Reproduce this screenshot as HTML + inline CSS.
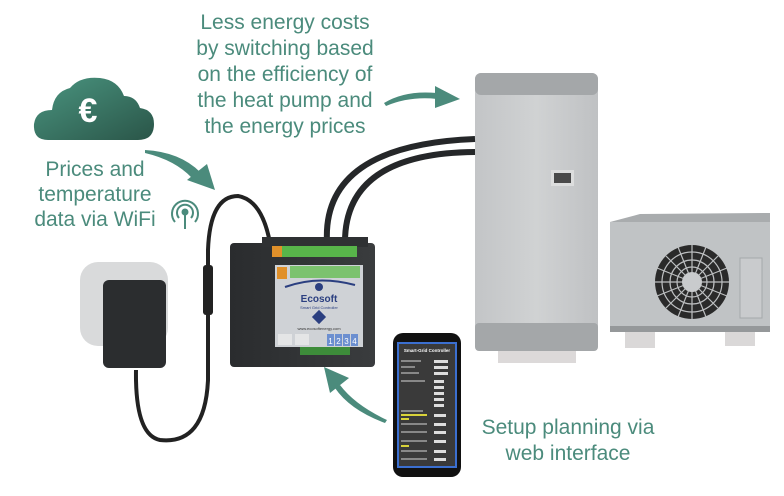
<!DOCTYPE html>
<html><head><meta charset="utf-8"><style>
html,body{margin:0;padding:0;background:#fff;}
svg{display:block}
text{font-family:"Liberation Sans",sans-serif;}
</style></head><body>
<svg width="784" height="496" viewBox="0 0 784 496" xmlns="http://www.w3.org/2000/svg">
<defs>
<linearGradient id="cg" x1="0" y1="0" x2="1" y2="1"><stop offset="0" stop-color="#4a9580"/><stop offset="1" stop-color="#2a5548"/></linearGradient>
<linearGradient id="hp" x1="0" y1="0" x2="1" y2="0"><stop offset="0" stop-color="#c3c5c7"/><stop offset="0.5" stop-color="#d0d2d3"/><stop offset="1" stop-color="#bfc1c3"/></linearGradient>
<linearGradient id="ctl" x1="0" y1="0" x2="1" y2="0"><stop offset="0" stop-color="#2a2c2e"/><stop offset="1" stop-color="#3a3c3e"/></linearGradient>
</defs>
<g fill="#4b8b7c" font-size="21" text-anchor="middle">
<text x="285" y="29">Less energy costs</text>
<text x="285" y="55">by switching based</text>
<text x="285" y="81">on the efficiency of</text>
<text x="285" y="107">the heat pump and</text>
<text x="285" y="133">the energy prices</text>
<text x="95" y="176">Prices and</text>
<text x="95" y="201">temperature</text>
<text x="95" y="226">data via WiFi</text>
<text x="568" y="434">Setup planning via</text>
<text x="568" y="460">web interface</text>
</g>
<!-- cloud -->
<path d="M48 140 Q33 140 34 124 Q36 110 52 110 Q54 92 70 88 Q80 76 100 78 Q118 80 124 96 Q136 96 140 108 Q154 110 154 124 Q154 140 138 140 Z" fill="url(#cg)"/>
<text x="88" y="122" fill="#fff" font-size="34" font-weight="bold" text-anchor="middle">€</text>
<!-- wifi -->
<g stroke="#4b8b7c" fill="none" stroke-width="2">
<circle cx="185" cy="212" r="2.5" fill="#4b8b7c"/>
<path d="M179 218 A8 8 0 1 1 191 218"/><path d="M175 222 A13 13 0 1 1 195 222"/>
<line x1="185" y1="214" x2="185" y2="229"/>
</g>
<!-- arrows -->
<g fill="#4b8b7c">
<path d="M145 150 Q180 152 200 172 L192 178 Q175 160 145 153 Z"/>
<path d="M187 180 L215 190 L207 164 Z"/>
<path d="M384 103 Q405 90 437 93 L437 99 Q410 96 386 106 Z"/>
<path d="M435 86 L460 99 L435 108 Z"/>
<path d="M387 420 Q355 405 340 385 L335 388 Q350 410 385 423 Z"/>
<path d="M324 367 L330 393 L349 378 Z"/>
</g>
<!-- heat pump -->
<rect x="498" y="345" width="78" height="18" fill="#dcd9d9"/>
<rect x="475" y="73" width="123" height="278" rx="6" fill="url(#hp)"/>
<rect x="475" y="73" width="123" height="22" rx="6" fill="#a4a7a9"/>
<rect x="475" y="323" width="123" height="28" rx="4" fill="#a4a7a9"/>
<rect x="551" y="170" width="23" height="16" fill="#dcdddd"/><rect x="554" y="173" width="17" height="10" fill="#4a4a4a"/>
<!-- outdoor unit -->
<rect x="625" y="328" width="30" height="20" fill="#dad8d8"/><rect x="725" y="328" width="30" height="18" fill="#dad8d8"/>
<path d="M610 222 L770 220 L770 328 L610 332 Z" fill="#c0c3c5"/>
<path d="M610 222 L640 214 L770 213 L770 222 Z" fill="#a9acae"/>
<rect x="610" y="326" width="160" height="6" fill="#95989a"/>
<circle cx="692" cy="282" r="37" fill="#2a2a2a"/>
<g stroke="#bdbfc1" stroke-width="1.2" fill="none">
<circle cx="692" cy="282" r="30"/><circle cx="692" cy="282" r="22"/><circle cx="692" cy="282" r="15"/>
<path d="M692 245V319M655 282H729M666 256L718 308M718 256L666 308M678 247L706 317M706 247L678 317M657 268L727 296M727 268L657 296"/>
</g>
<circle cx="692" cy="282" r="10" fill="#c9cbcd"/>
<rect x="740" y="258" width="22" height="60" fill="#c9cbcd" stroke="#a5a8aa"/>
<!-- cables to heat pump -->
<g fill="none" stroke="#252729" stroke-width="6">
<path d="M327 242 Q322 145 475 139"/>
<path d="M345 242 Q345 153 475 152"/>
</g>
<!-- power cable -->
<path d="M270 243 Q262 200 238 196 Q210 196 208 250 L208 380 Q205 445 160 440 Q135 435 136 370" fill="none" stroke="#222" stroke-width="4"/>
<rect x="203" y="265" width="10" height="50" rx="3" fill="#222"/>
<!-- plug -->
<rect x="80" y="262" width="88" height="84" rx="18" fill="#d9dadb"/>
<rect x="103" y="280" width="63" height="88" rx="6" fill="#2b2d2f"/>
<!-- controller -->
<rect x="230" y="243" width="145" height="124" rx="4" fill="url(#ctl)"/>
<rect x="262" y="237" width="106" height="10" fill="#2f3133"/>
<rect x="272" y="246" width="85" height="11" fill="#58b54a"/>
<rect x="272" y="246" width="10" height="11" fill="#e0902a"/>
<rect x="275" y="265" width="88" height="82" fill="#cfd2d6"/>
<rect x="277" y="267" width="10" height="12" fill="#e0902a"/>
<rect x="290" y="266" width="70" height="12" fill="#7cc26e"/>
<path d="M285 287 Q318 275 355 285" stroke="#2b3f80" stroke-width="2" fill="none"/>
<circle cx="319" cy="287" r="4" fill="#2b3f80"/>
<text x="319" y="302" font-size="10" font-weight="bold" fill="#2b3f80" text-anchor="middle">Ecosoft</text>
<text x="319" y="309" font-size="4" fill="#2b3f80" text-anchor="middle">Smart Grid Controller</text>
<rect x="314" y="312" width="10" height="10" transform="rotate(45 319 317)" fill="#2b3f80"/>
<text x="319" y="330" font-size="4" fill="#333" text-anchor="middle">www.ecosoftenergy.com</text>
<rect x="278" y="334" width="14" height="11" fill="#e4e5e6"/><rect x="295" y="334" width="14" height="11" fill="#e4e5e6"/>
<g fill="#6c8fd0"><rect x="327" y="334" width="7" height="12"/><rect x="335" y="334" width="7" height="12"/><rect x="343" y="334" width="7" height="12"/><rect x="351" y="334" width="7" height="12"/></g>
<g fill="#fff" font-size="8" text-anchor="middle"><text x="330.5" y="344">1</text><text x="338.5" y="344">2</text><text x="346.5" y="344">3</text><text x="354.5" y="344">4</text></g>
<rect x="300" y="347" width="50" height="8" fill="#3d8c3a"/>
<!-- phone -->
<rect x="393" y="333" width="68" height="144" rx="10" fill="#111"/>
<rect x="397" y="342" width="60" height="126" fill="#3b6fd0"/>
<rect x="399" y="344" width="56" height="122" fill="#3a3a3a"/>
<text x="427" y="352" font-size="4.5" fill="#fff" font-weight="bold" text-anchor="middle">Smart-Grid Controller</text>
<g fill="#ddd"><rect x="434" y="360" width="14" height="3"/><rect x="434" y="366" width="14" height="3"/><rect x="434" y="372" width="14" height="3"/><rect x="434" y="380" width="10" height="3"/><rect x="434" y="386" width="10" height="3"/><rect x="434" y="392" width="10" height="3"/><rect x="434" y="398" width="10" height="3"/><rect x="434" y="404" width="10" height="3"/><rect x="434" y="414" width="12" height="3"/><rect x="434" y="423" width="12" height="3"/><rect x="434" y="431" width="12" height="3"/><rect x="434" y="440" width="12" height="3"/><rect x="434" y="450" width="12" height="3"/><rect x="434" y="458" width="12" height="3"/></g>
<g fill="#888"><rect x="401" y="360" width="20" height="2"/><rect x="401" y="366" width="14" height="2"/><rect x="401" y="372" width="18" height="2"/><rect x="401" y="380" width="24" height="2"/><rect x="401" y="410" width="22" height="2"/><rect x="401" y="423" width="26" height="2"/><rect x="401" y="431" width="26" height="2"/><rect x="401" y="440" width="26" height="2"/><rect x="401" y="450" width="26" height="2"/><rect x="401" y="458" width="26" height="2"/></g>
<g fill="#d8d23a"><rect x="401" y="414" width="26" height="2"/><rect x="401" y="418" width="8" height="2"/><rect x="401" y="445" width="8" height="2"/></g>
</svg>
</body></html>
